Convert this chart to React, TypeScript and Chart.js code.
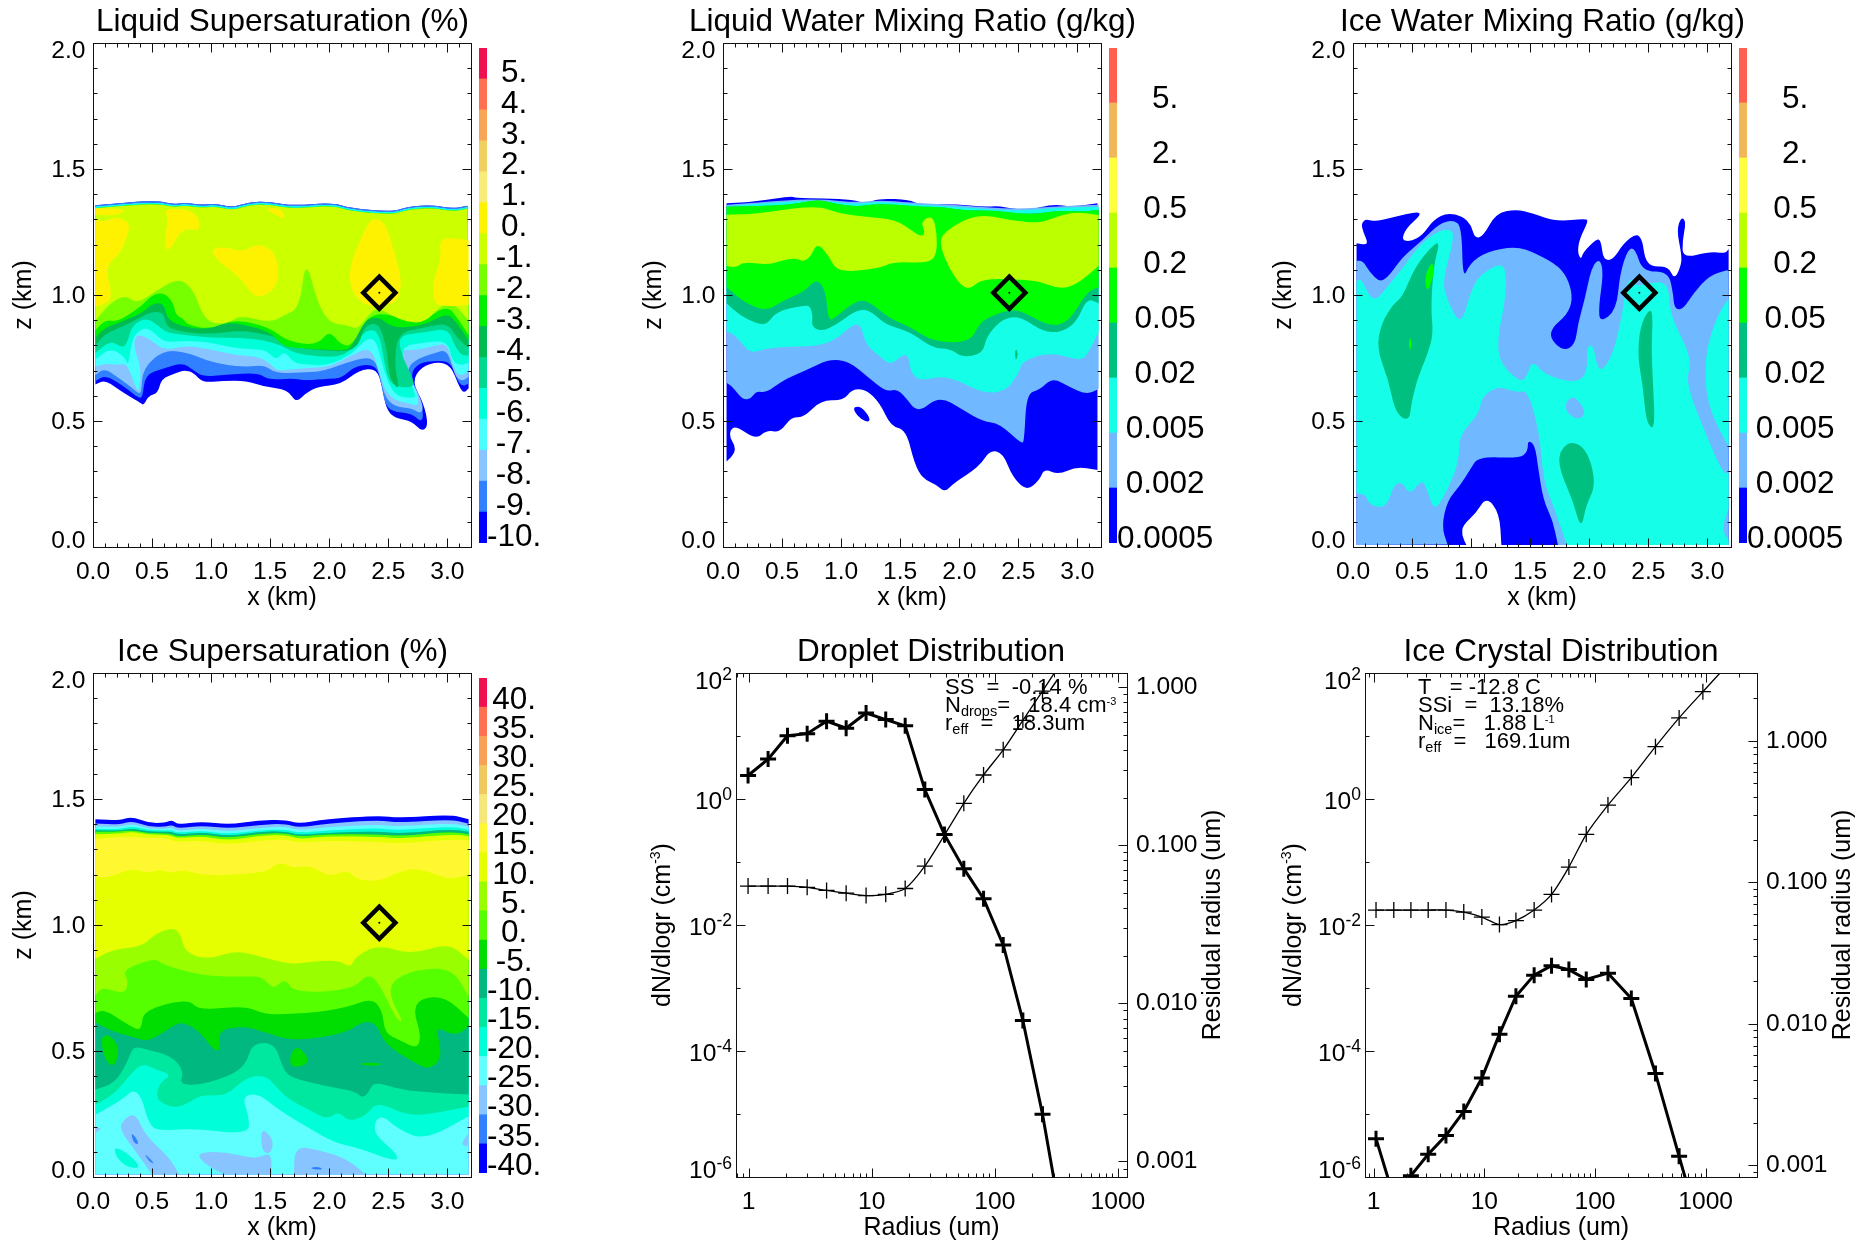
import { useEffect, useRef } from "react";
import { Chart, registerables } from "chart.js";
Chart.register(...registerables);
Chart.defaults.font.family = '"Liberation Sans"';
Chart.defaults.color = "#000";

// ---------- colour bars ----------
const liqLabels = ["5.", "4.", "3.", "2.", "1.", "0.", "-1.", "-2.", "-3.", "-4.", "-5.", "-6.", "-7.", "-8.", "-9.", "-10."];
const liqColors = ["#EE1050", "#FF7050", "#F8A558", "#F0D060", "#F8EC78", "#FFF200", "#CCFF00", "#77FF00", "#00F000", "#00BB50", "#00D890", "#00FFD8", "#48FFFF", "#88C4FF", "#3080FF", "#0000FF"];
const mixLabels = ["5.", "2.", "0.5", "0.2", "0.05", "0.02", "0.005", "0.002", "0.0005"];
const mixColors = ["#FF6050", "#F0B858", "#FFFF40", "#BBFF00", "#00FF00", "#00C080", "#15FFE8", "#70B8FF", "#0000FF"];
const iceLabels = ["40.", "35.", "30.", "25.", "20.", "15.", "10.", "5.", "0.", "-5.", "-10.", "-15.", "-20.", "-25.", "-30.", "-35.", "-40."];
const iceColors = ["#EE1050", "#FF7050", "#F8A058", "#F0C860", "#F5E878", "#FFF830", "#E6FF00", "#99FF00", "#55FF00", "#00DD00", "#00B880", "#00E8A0", "#00FFD8", "#60FFFF", "#88C4FF", "#3080FF", "#0000FF"];

// ---------- Liquid supersaturation contours (x km, z km pairs) ----------
const liqTopX = [0.02, 0.53, 0.67, 0.78, 0.91, 1.04, 1.18, 1.32, 1.49, 1.69, 2.02, 2.19, 2.53, 2.67, 2.87, 3.04, 3.17];
const liqTopA = [1.356, 1.376, 1.36, 1.367, 1.357, 1.364, 1.347, 1.369, 1.371, 1.354, 1.367, 1.344, 1.33, 1.351, 1.357, 1.343, 1.354];
const liqTopB = [1.35, 1.37, 1.354, 1.361, 1.351, 1.358, 1.341, 1.363, 1.365, 1.348, 1.361, 1.338, 1.324, 1.345, 1.351, 1.337, 1.348];
const liqTopC = [1.344, 1.364, 1.348, 1.355, 1.345, 1.352, 1.335, 1.357, 1.359, 1.342, 1.355, 1.332, 1.318, 1.339, 1.345, 1.331, 1.342];
const liqM10 = [.02,.645,.1,.663,.2,.63,.3,.6,.4,.572,.43,.562,.47,.6,.55,.61,.58,.669,.7,.689,.77,.702,.85,.692,.93,.652,1.1,.66,1.3,.66,1.45,.636,1.65,.623,1.72,.572,1.8,.61,1.9,.636,2.1,.645,2.25,.702,2.4,.709,2.45,.636,2.48,.55,2.55,.512,2.7,.5,2.78,.458,2.84,.48,2.8,.57,2.7,.656,2.78,.715,2.92,.735,3.03,.72,3.1,.636,3.14,.61,3.18,.63];
const liqM9 = [.02,.658,.1,.681,.2,.656,.3,.623,.38,.594,.42,.59,.44,.683,.6,.709,.76,.731,.85,.702,.93,.676,1.12,.683,1.4,.692,1.48,.663,1.7,.669,1.8,.66,2,.669,2.1,.669,2.23,.722,2.4,.722,2.44,.649,2.47,.57,2.53,.537,2.7,.53,2.77,.497,2.8,.517,2.77,.59,2.68,.683,2.76,.731,2.9,.739,3.03,.735,3.08,.663,3.13,.636,3.18,.649];
const liqM8 = [.02,.683,.1,.709,.2,.676,.3,.643,.38,.61,.41,.61,.42,.709,.6,.782,.8,.772,.95,.742,1.12,.722,1.3,.715,1.45,.722,1.55,.689,1.75,.692,1.95,.696,2.2,.742,2.38,.755,2.43,.676,2.47,.597,2.55,.557,2.7,.55,2.77,.53,2.8,.55,2.75,.616,2.65,.696,2.72,.742,2.9,.771,3,.784,3.06,.683,3.12,.656,3.18,.676];
const liqM7 = [.02,.715,.1,.729,.2,.722,.28,.729,.33,.676,.37,.623,.39,.623,.41,.705,.34,.8,.37,.845,.47,.83,.6,.78,.8,.8,1,.784,1.2,.762,1.4,.755,1.5,.729,1.55,.702,1.6,.702,1.8,.709,2,.715,2.2,.762,2.35,.795,2.42,.702,2.47,.623,2.55,.583,2.68,.57,2.76,.557,2.74,.623,2.62,.709,2.57,.782,2.75,.782,2.9,.8,3,.808,3.05,.715,3.1,.676,3.18,.696];
const liqM6 = [.02,.745,.15,.79,.25,.76,.28,.74,.3,.72,.33,.83,.42,.87,.5,.86,.6,.81,.8,.82,1,.81,1.2,.79,1.35,.785,1.47,.78,1.55,.74,1.62,.78,1.7,.73,1.8,.725,2,.72,2.2,.77,2.32,.83,2.4,.82,2.46,.7,2.55,.6,2.7,.59,2.74,.6,2.62,.72,2.62,.8,2.8,.81,3,.82,3.04,.74,3.1,.72,3.18,.73];
const liqM5 = [.02,.77,.15,.82,.25,.79,.29,.81,.33,.88,.45,.91,.55,.88,.62,.85,.8,.84,1,.83,1.25,.83,1.45,.82,1.6,.8,1.7,.77,1.9,.755,2.1,.755,2.2,.79,2.3,.86,2.42,.86,2.47,.72,2.52,.64,2.7,.63,2.72,.66,2.62,.75,2.58,.84,2.8,.85,3,.87,3.06,.8,3.12,.76,3.18,.76];
const liqM4 = [.02,.8,.1,.845,.25,.875,.4,.91,.5,.935,.6,.93,.62,.87,.8,.85,1,.845,1.25,.86,1.5,.84,1.6,.82,1.75,.79,1.95,.78,2.15,.775,2.25,.8,2.3,.88,2.42,.89,2.48,.8,2.5,.72,2.52,.66,2.6,.62,2.55,.72,2.58,.85,2.8,.87,3,.89,3.08,.83,3.18,.79];
const liqM3 = [.02,.83,.1,.87,.25,.895,.42,.93,.5,.965,.6,.97,.63,.9,.8,.87,1,.865,1.1,.89,1.25,.885,1.5,.855,1.6,.8,1.7,.79,1.9,.785,2.1,.78,2.18,.785,2.25,.86,2.3,.9,2.42,.915,2.5,.88,2.6,.87,2.8,.88,3,.93,3.08,.89,3.18,.82];
const liqM2 = [.02,.86,.1,.9,.2,.895,.3,.92,.42,.96,.5,1,.6,1.01,.68,.97,.7,.92,.77,.905,.8,.88,1,.865,1.2,.905,1.5,.87,1.65,.815,1.9,.8,2,.86,2.1,.8,2.2,.8,2.3,.9,2.42,.93,2.6,.91,2.8,.9,3,.96,3.1,.9,3.18,.84];
const liqM1 = [.02,.9,.15,.97,.28,1,.37,.965,.53,1.015,.73,1.07,.85,1.02,.92,.93,1,.885,1.15,.89,1.25,.92,1.5,.89,1.62,.92,1.75,.95,1.8,1.15,1.9,.97,2,.89,2.15,.88,2.2,.87,2.25,.87,2.35,.93,2.42,.95,2.6,.9,2.8,.885,2.95,.96,3.05,.97,3.18,.9];
const liqY1 = [.02,1.3,.1,1.29,.2,1.313,.32,1.285,.28,1.22,.23,1.165,.1,1.11,.17,.99,.08,.96,.02,.955];
const liqY2 = [.6,1.344,.87,1.337,.92,1.25,.76,1.27,.63,1.16,.6,1.22,.64,1.3];
const liqY3 = [1.45,1.344,1.6,1.344,1.63,1.298,1.52,1.324];
const liqY4 = [1,1.185,1.13,1.19,1.27,1.17,1.38,1.205,1.52,1.18,1.57,1.12,1.56,1.033,1.43,.99,1.35,1,1.24,1.073,1.04,1.14];
const liqY5 = [2.38,1.304,2.47,1.29,2.54,1.19,2.6,1.086,2.61,1.033,2.58,.98,2.5,.96,2.3,.954,2.18,1.02,2.17,1.11,2.26,1.218,2.33,1.284];
const liqY6 = [2.93,1.23,3.18,1.218,3.18,.96,2.99,.954,2.88,.967,2.88,1.06,2.95,1.15];
const liqY7 = [.02,1.344,.3,1.34,.2,1.315,.02,1.318];

// ---------- Liquid water mixing ratio contours ----------
const lwcTop0 = [.03,1.364,.28,1.37,.58,1.393,.61,1.384,.85,1.384,1.1,1.377,1.21,1.364,1.33,1.384,1.58,1.377,1.66,1.36,1.98,1.361,2.2,1.35,2.34,1.353,2.43,1.344,2.6,1.337,2.79,1.361,2.96,1.35,3.17,1.364];
const lwcTop1 = [.03,1.358,.56,1.377,.85,1.38,1.13,1.367,1.33,1.377,1.58,1.367,1.98,1.357,2.48,1.34,2.82,1.353,3.18,1.358];
const lwcTop2 = [.03,1.352,.56,1.372,.85,1.375,1.13,1.36,1.33,1.372,1.58,1.36,1.98,1.35,2.48,1.332,2.82,1.346,3.18,1.35];
const lwcTop3 = [.03,1.35,.56,1.357,.8,1.38,.93,1.364,1.13,1.35,1.33,1.364,1.66,1.35,1.83,1.35,2.06,1.335,2.31,1.335,2.6,1.318,2.82,1.335,3.05,1.331,3.18,1.338];
const lwcB0 = [.03,.339,.1,.372,.1,.405,.06,.431,.06,.464,.11,.48,.28,.427,.37,.464,.48,.454,.58,.517,.68,.513,.83,.583,1.02,.581,1.09,.626,1.21,.626,1.33,.57,1.42,.48,1.55,.464,1.62,.332,1.69,.272,1.81,.246,1.88,.217,1.95,.253,2.17,.319,2.26,.385,2.37,.372,2.45,.279,2.57,.222,2.68,.266,2.72,.312,2.84,.286,2.99,.319,3.17,.306];
const lwcB1 = [.03,.652,.08,.636,.17,.583,.24,.59,.28,.619,.37,.612,.51,.663,.71,.703,.9,.746,1.07,.736,1.24,.669,1.38,.616,1.47,.627,1.54,.597,1.65,.53,1.83,.6,2.03,.544,2.2,.498,2.34,.491,2.53,.408,2.55,.424,2.57,.61,2.68,.623,2.79,.672,2.93,.636,3.08,.605,3.18,.627];
const lwcB2 = [.03,.855,.08,.848,.14,.821,.23,.768,.37,.788,.56,.795,.83,.798,.99,.835,1.04,.861,1.13,.888,1.17,.874,1.21,.802,1.33,.755,1.42,.722,1.52,.762,1.57,.762,1.59,.689,1.68,.659,1.83,.678,1.98,.663,2.2,.61,2.4,.617,2.51,.696,2.53,.736,2.77,.775,3.03,.736,3.1,.775,3.18,.855];
const lwcB3 = [.03,.967,.14,.92,.28,.888,.37,.881,.45,.934,.69,.96,.74,.954,.76,.914,.75,.875,.83,.855,.96,.882,1.09,.928,1.19,.945,1.27,.928,1.38,.881,1.58,.855,1.78,.788,1.92,.788,2.03,.751,2.2,.768,2.23,.835,2.34,.894,2.44,.914,2.54,.907,2.71,.855,2.85,.851,2.99,.888,3.08,.987,3.18,.967];
const lwcB4 = [.03,1.033,.17,.973,.37,.934,.51,.98,.69,1.013,.79,1.066,.87,1.02,.89,.894,.96,.914,1.13,.98,1.24,.974,1.41,.907,1.58,.874,1.78,.815,2.09,.811,2.17,.887,2.26,.914,2.43,.943,2.54,.934,2.77,.874,2.93,.894,3.08,1.013,3.18,1.03];
const lwcIslandBlue = [1.11,.557,1.17,.557,1.24,.517,1.24,.495,1.17,.505,1.11,.538];
const lwcIslandTeal = [2.48,.788,2.47,.768,2.48,.735,2.5,.768];
const lwcLimeA = [.03,1.318,.28,1.322,.79,1.357,.99,1.322,1.21,1.311,1.47,1.298,1.61,1.251,1.68,1.232,1.71,1.245,1.68,1.284,1.71,1.304,1.78,1.311,1.81,1.245,1.81,1.165,1.75,1.126,1.44,1.132,1.33,1.106,.97,1.089,.9,1.152,.8,1.208,.74,1.152,.68,1.132,.62,1.146,.52,1.139,.37,1.119,.18,1.132,.11,1.109,.03,1.115];
const lwcLimeB = [1.85,1.245,2.14,1.324,2.43,1.297,2.68,1.284,2.82,1.311,2.99,1.33,3.18,1.317,3.18,1.115,2.99,1.04,2.85,1.024,2.68,1.053,2.55,1.06,2.2,1.066,2.09,1.024,2.02,1.035,1.92,1.1,1.84,1.19];

// ---------- Ice water mixing ratio contours ----------
const iwcBlue = [.03,1.205,.135,1.198,.085,1.251,.07,1.284,.11,1.302,.17,1.291,.37,1.311,.54,1.331,.58,1.32,.45,1.265,.41,1.218,.49,1.212,.59,1.238,.68,1.298,.8,1.327,.93,1.311,1,1.278,1.03,1.225,1.1,1.231,1.21,1.324,1.38,1.34,1.52,1.324,1.72,1.291,1.975,1.304,1.99,1.291,1.92,1.225,1.9,1.172,1.93,1.139,1.95,1.172,2.07,1.225,2.1,1.212,2.12,1.139,2.2,1.139,2.29,1.205,2.4,1.245,2.45,1.218,2.47,1.146,2.525,1.112,2.67,1.115,2.72,1.06,2.78,1.119,2.78,1.165,2.74,1.258,2.78,1.311,2.82,1.291,2.79,1.218,2.79,1.146,3.02,1.172,3.15,1.165,3.18,1.183,3.18,.008,1.256,.008,1.24,.134,1.13,.2,1.04,.134,.93,.087,.92,.048,.96,.008,.03,.008];
const iwcLight = [.03,1.136,.085,1.135,.14,1.092,.23,1.049,.31,1.079,.42,1.152,.59,1.218,.73,1.284,.85,1.298,.92,1.271,.93,1.06,.99,1.126,1.13,1.172,1.38,1.194,1.55,1.165,1.75,1.112,1.83,1.053,1.86,.98,1.81,.92,1.69,.874,1.665,.828,1.78,.778,1.88,.802,1.905,.888,1.96,.98,2.02,1.112,2.09,1.146,2.12,1.086,2.08,.954,2.09,.89,2.23,.94,2.26,1.086,2.33,1.185,2.39,1.185,2.45,1.093,2.67,1.093,2.71,1.006,2.72,.947,2.79,.94,2.88,1.006,3.02,1.079,3.18,1.1,3.18,.008,1.735,.008,1.69,.107,1.61,.186,1.566,.319,1.54,.405,1.48,.425,1.48,.379,1.41,.352,1.06,.359,.99,.306,.9,.239,.8,.186,.75,.081,.8,.01,.03,.008];
const iwcCyan = [.03,1.056,.07,1.066,.14,.993,.2,.982,.28,1.026,.42,1.106,.56,1.198,.71,1.251,.82,1.264,.86,1.231,.76,1.06,.79,.987,.89,.894,.945,.92,.99,1.006,1.07,1.08,1.27,1.132,1.3,1.06,1.28,.954,1.23,.848,1.23,.755,1.31,.696,1.425,.656,1.47,.676,1.52,.742,1.61,.689,1.81,.656,1.95,.663,1.99,.729,1.975,.788,2.03,.808,2.06,.729,2.1,.696,2.19,.755,2.26,.874,2.33,1.079,2.4,1.033,2.48,1.047,2.67,1.053,2.68,.927,2.82,.795,2.86,.729,2.82,.649,2.96,.478,3.13,.292,3.18,.295,3.18,.153,3.12,.067,3.18,.028,3.18,.008,1.81,.008,1.71,.147,1.61,.266,1.58,.451,1.48,.623,1.38,.612,1.23,.639,1.09,.597,1.07,.53,.9,.444,.9,.358,.85,.279,.75,.181,.68,.147,.62,.239,.58,.265,.48,.207,.42,.255,.35,.252,.28,.153,.14,.167,.11,.207,.03,.213];
const iwcCyanRight = [3.18,.987,3.08,.914,2.99,.782,2.98,.649,3.03,.53,3.18,.398];
const iwcLightIsland = [1.78,.557,1.86,.607,1.96,.55,1.95,.511,1.86,.51];
const iwcTealA = [.74,1.218,.68,1.112,.66,.94,.68,.848,.635,.769,.54,.663,.49,.557,.48,.511,.42,.507,.35,.55,.3,.663,.2,.788,.24,.888,.34,.964,.42,.993,.52,1.106,.65,1.185];
const iwcTealB = [2.5,.94,2.54,.934,2.525,.781,2.55,.557,2.55,.49,2.53,.468,2.48,.504,2.455,.636,2.41,.755,2.43,.874];
const iwcTealC = [1.85,.418,1.95,.398,2.02,.332,2.05,.239,1.975,.167,1.93,.067,1.86,.186,1.76,.292,1.74,.358,1.78,.398];
const iwcGreenA = [.67,1.132,.69,1.099,.66,1.046,.63,1.013,.61,1.046,.62,1.093];
const iwcGreenB = [.485,.835,.5,.808,.485,.775,.47,.808];

// ---------- Ice supersaturation contours ----------
const issTopX = [.02,.22,.33,.47,.61,.67,.72,.92,1.15,1.4,1.63,1.74,1.97,2.42,2.59,3.03,3.18];
const issT0 = [1.42,1.415,1.431,1.405,1.405,1.418,1.398,1.411,1.398,1.415,1.418,1.402,1.42,1.435,1.425,1.438,1.42];
const issT1 = [1.403,1.398,1.414,1.39,1.39,1.398,1.382,1.395,1.382,1.398,1.402,1.386,1.402,1.417,1.405,1.42,1.402];
const issT2 = [1.392,1.388,1.402,1.382,1.382,1.386,1.372,1.384,1.37,1.386,1.39,1.375,1.388,1.4,1.39,1.405,1.39];
const issT3 = [1.382,1.38,1.392,1.376,1.376,1.376,1.365,1.375,1.36,1.376,1.38,1.365,1.375,1.385,1.375,1.392,1.378];
const issT4 = [1.376,1.374,1.384,1.37,1.37,1.37,1.358,1.368,1.352,1.37,1.372,1.356,1.366,1.372,1.362,1.38,1.37];
const issT5 = [1.37,1.37,1.376,1.364,1.364,1.36,1.35,1.36,1.345,1.362,1.365,1.35,1.36,1.36,1.352,1.37,1.36];
const issT6 = [1.36,1.362,1.37,1.358,1.358,1.352,1.344,1.352,1.335,1.354,1.358,1.34,1.352,1.35,1.342,1.36,1.352];
const issT7 = [1.34,1.35,1.35,1.345,1.345,1.335,1.33,1.335,1.318,1.335,1.34,1.325,1.335,1.33,1.322,1.34,1.335];
const issFloor = [.02,.01,3.18,.01];
const issB15 = [.02,1.193,.13,1.186,.33,1.226,.47,1.204,.56,1.222,.67,1.204,.75,1.22,.95,1.196,1.23,1.2,1.49,1.213,1.53,1.239,1.63,1.246,1.68,1.226,1.85,1.237,2,1.19,2.16,1.22,2.23,1.18,2.42,1.173,2.56,1.206,2.73,1.226,2.87,1.206,3.03,1.18,3.18,1.2];
const issB10 = [.02,.865,.16,.902,.42,.915,.515,.962,.67,.991,.74,.968,.78,.889,.98,.862,1.2,.899,1.4,.876,1.69,.843,1.8,.853,2.08,.862,2.18,.829,2.22,.876,2.42,.922,2.7,.882,3.01,.929,3.18,.862];
const issB5 = [.02,.72,.08,.755,.27,.724,.3,.776,.25,.823,.53,.869,.58,.843,.95,.796,1.32,.796,1.43,.796,1.53,.743,1.62,.79,1.71,.73,2.19,.743,2.33,.807,2.42,.77,2.57,.624,2.63,.614,2.52,.704,2.52,.776,2.73,.823,3.04,.829,3.18,.717];
const issB0 = [.02,.651,.1,.664,.25,.618,.37,.585,.41,.591,.43,.664,.81,.708,.89,.661,1.29,.68,1.46,.644,1.68,.648,1.83,.651,2.14,.671,2.36,.71,2.45,.661,2.47,.571,2.59,.545,2.74,.508,2.78,.558,2.71,.664,2.78,.71,2.98,.717,3.18,.631];
const issBm5 = [.02,.614,.16,.578,.36,.552,.47,.538,.65,.591,.74,.618,.89,.585,1.03,.499,1.08,.505,1.06,.585,1.29,.598,1.43,.578,1.7,.538,2.14,.571,2.28,.618,2.4,.611,2.47,.525,2.73,.452,2.84,.426,2.95,.466,2.93,.545,2.9,.598,3.07,.558,3.18,.598];
const issBm10 = [.02,.347,.19,.373,.3,.466,.34,.519,.47,.505,.67,.479,.77,.419,.73,.366,.92,.366,1.18,.406,1.3,.452,1.35,.532,1.54,.532,1.61,.426,1.68,.393,1.97,.36,2.22,.34,2.28,.313,2.33,.333,2.38,.38,2.6,.347,2.9,.333,3.18,.327];
const issBm15 = [.02,.287,.19,.333,.3,.399,.415,.452,.53,.426,.67,.406,.56,.373,.53,.307,.67,.274,.78,.287,.92,.327,1.12,.32,1.29,.393,1.46,.406,1.57,.347,1.66,.307,1.83,.267,1.98,.228,2.08,.261,2.16,.221,2.31,.241,2.4,.3,2.64,.247,2.84,.247,3.18,.28];
const issBm20 = [.02,.247,.25,.307,.34,.349,.415,.313,.46,.228,.53,.181,.84,.194,1.32,.168,1.32,.241,1.26,.32,1.4,.333,1.57,.267,1.85,.188,2.05,.135,2.25,.115,2.58,.058,2.57,.095,2.38,.168,2.39,.228,2.46,.241,2.59,.188,2.81,.146,3.18,.241];
const issSpot5A = [.06,.558,.15,.565,.23,.505,.175,.433,.1,.465];
const issSpot5B = [1.67,.492,1.74,.522,1.85,.452,1.67,.429];
const issSpot5C = [2.23,.448,2.36,.456,2.47,.446,2.35,.44];
const issPatchA = [.32,.247,.37,.241,.45,.161,.64,.082,.73,.01,.5,.01,.38,.09,.22,.19,.26,.228];
const issPatchB = [.87,.095,1.09,.102,1.35,.075,1.42,.082,1.51,.095,1.51,.01,1.11,.01,.95,.049];
const issPatchC = [1.42,.2,1.53,.148,1.51,.095,1.43,.095];
const issPatchD = [1.71,.122,1.91,.108,2.14,.075,2.31,.01,1.7,.01];
const issPatchE = [3.18,.175,3.17,.122,3.11,.128];
const issPatchF = [.02,.194,.08,.194,.02,.175];
const issDeepA = [.32,.175,.36,.161,.39,.128,.345,.135];
const issDeepB = [.43,.098,.53,.049,.47,.062];
const issDeepC = [1.83,.036,1.9,.042,1.95,.032,1.9,.028];
const issOval = [.175,.119,.275,.102,.415,.036,.3,.036,.2,.075];

const markerX = [2.424];
const markerZ = [1.009];

// ---------- Distributions ----------
const dropRadius = [.99,1.44,2.07,2.99,4.3,6.2,9,13,18.7,27,39,56,81,117,169,244,352];
const dropDensity = [2.36,4.3,10.1,10.9,17.2,13.3,23.2,18.2,14.5,1.41,.272,.0783,.0261,.00482,3.05e-4,9.9e-6,1.7e-7];
const dropResidual = [.0551,.0551,.0551,.0541,.0517,.0497,.048,.0489,.0532,.0737,.116,.184,.278,.401,.616,.944,1.46];
const iceRadius = [1.05,1.52,2.17,3.11,4.5,6.52,9.5,13.7,19.3,28.2,40.5,58.1,83.4,131,213,352,576,944,1548];
const iceDensity = [4.06e-6,4.8e-7,1.05e-6,2.29e-6,4.55e-6,1.1e-5,3.72e-5,1.85e-4,7.4e-4,1.6e-3,2.26e-3,1.96e-3,1.37e-3,1.72e-3,6.8e-4,4.4e-5,2.13e-6,1e-7,1e-8];
const iceResidual = [.0636,.0636,.0636,.0636,.0636,.0615,.0567,.0502,.0536,.0636,.082,.128,.218,.351,.549,.908,1.45,2.22,3.38];

const kmMajorX = [0, .5, 1, 1.5, 2, 2.5, 3];
const kmMinorX = [.1,.2,.3,.4,.6,.7,.8,.9,1.1,1.2,1.3,1.4,1.6,1.7,1.8,1.9,2.1,2.2,2.3,2.4,2.6,2.7,2.8,2.9,3.1];
const kmMajorZ = [0, .5, 1, 1.5, 2];
const kmMinorZ = [.1,.2,.3,.4,.6,.7,.8,.9,1.1,1.2,1.3,1.4,1.6,1.7,1.8,1.9];
const densTicks = [2, 0, -2, -4, -6];
const densMinor = [1e1, 1e-1, 1e-3, 1e-5];
const residTicks = [1, .1, .01, .001];
const radiusTicks = [1, 10, 100, 1000];

// ---------- helpers ----------
const pairs = (f: number[]) => {
  const o: { x: number; y: number }[] = [];
  for (let i = 0; i < f.length; i += 2) o.push({ x: f[i], y: f[i + 1] });
  return o;
};
const zip = (xs: number[], zs: number[]) => xs.flatMap((x, i) => [x, zs[i]]);
const band = (top: number[], bottom: number[]) => [...pairs(top), ...pairs(bottom).reverse()];
const logMinors = (lo: number, hi: number) => {
  const out: number[] = [];
  for (let d = -4; d < 5; d++) for (let m = 2; m < 10; m++) {
    const v = m * 10 ** d;
    if (v > lo && v < hi) out.push(v);
  }
  return out;
};

const polygonFill = {
  id: "polygonFill",
  beforeDatasetDraw(chart: any, args: any) {
    const ds = chart.data.datasets[args.index];
    if (!ds.polygon) return;
    const { ctx, chartArea: a } = chart;
    const pts = args.meta.data;
    const n = pts.length;
    const raw = ds.data;
    const sharp = (i: number) => raw[i].x <= 0.035 || raw[i].x >= 3.165 || raw[i].y <= 0.011;
    ctx.save();
    ctx.beginPath();
    ctx.rect(a.left, a.top, a.right - a.left, a.bottom - a.top);
    ctx.clip();
    ctx.beginPath();
    const mid = (i: number) => {
      const p = pts[i % n], q = pts[(i + 1) % n];
      return [(p.x + q.x) / 2, (p.y + q.y) / 2];
    };
    const s = mid(n - 1);
    ctx.moveTo(s[0], s[1]);
    for (let i = 0; i < n; i++) {
      const m = mid(i);
      if (sharp(i)) {
        ctx.lineTo(pts[i].x, pts[i].y);
        ctx.lineTo(m[0], m[1]);
      } else {
        ctx.quadraticCurveTo(pts[i].x, pts[i].y, m[0], m[1]);
      }
    }
    ctx.closePath();
    ctx.fillStyle = ds.backgroundColor;
    ctx.fill();
    ctx.restore();
  },
};

const frame = (spec: any) => ({
  id: "frame",
  afterDatasetsDraw(chart: any) {
    const { ctx, chartArea: a, scales } = chart;
    const L = Math.round(a.left) + 0.5, R = Math.round(a.right) + 0.5, T = Math.round(a.top) + 0.5, B = Math.round(a.bottom) + 0.5;
    ctx.save();
    ctx.strokeStyle = "#111";
    ctx.lineWidth = 1;
    const seg = (x1: number, y1: number, x2: number, y2: number) => {
      ctx.beginPath(); ctx.moveTo(x1, y1); ctx.lineTo(x2, y2); ctx.stroke();
    };
    ctx.strokeRect(L, T, R - L, B - T);
    const xT = (vals: number[], len: number) => vals.forEach((v) => {
      const p = Math.round(scales.x.getPixelForValue(v)) + 0.5;
      seg(p, B, p, B - len); seg(p, T, p, T + len);
    });
    xT(spec.xMajor, 9); xT(spec.xMinor, 4);
    const yT = (id: string, vals: number[], len: number, left: boolean, right: boolean) => vals.forEach((v) => {
      const p = Math.round(scales[id].getPixelForValue(v)) + 0.5;
      if (left) seg(L, p, L + len, p);
      if (right) seg(R, p, R - len, p);
    });
    (spec.y || []).forEach((y: any) => yT(y.id, y.vals, y.len, y.left, y.right));
    ctx.restore();
  },
});

type Run = [string, number, number];
const runsWidth = (ctx: any, runs: Run[]) => runs.reduce((w, [t, s]) => {
  ctx.font = `${s}px "Liberation Sans"`;
  return w + ctx.measureText(t).width;
}, 0);
const drawRuns = (ctx: any, x: number, y: number, runs: Run[]) => {
  ctx.textBaseline = "alphabetic";
  ctx.textAlign = "left";
  ctx.fillStyle = "#000";
  runs.forEach(([t, s, dy]) => {
    ctx.font = `${s}px "Liberation Sans"`;
    ctx.fillText(t, x, y + dy);
    x += ctx.measureText(t).width;
  });
};

const annotate = (spec: any) => ({
  id: "annotate",
  afterDraw(chart: any) {
    const { ctx, scales } = chart;
    ctx.save();
    densTicks.forEach((e, i) => {
      const p = scales.y.getPixelForValue(10 ** e) + [16, 10, 10, 10, 1][i];
      const runs: Run[] = [["10", 24.6, 0], [String(e), 17.5, -9]];
      drawRuns(ctx, chart.chartArea.left - 4 - runsWidth(ctx, runs), p, runs);
    });
    spec.lines.forEach((l: Run[], i: number) => drawRuns(ctx, spec.textX, spec.textY + i * 18.2, l));
    [[spec.leftX, spec.leftTitle], [spec.rightX, spec.rightTitle]].forEach(([x, runs]: any) => {
      ctx.save();
      ctx.translate(x, 295);
      ctx.rotate(-Math.PI / 2);
      drawRuns(ctx, -runsWidth(ctx, runs) / 2, 8.5, runs);
      ctx.restore();
    });
    ctx.restore();
  },
});

const titleOf = (text: string) => ({
  display: true, text, color: "#000",
  font: { size: 31.5, weight: "normal" as const, lineHeight: 1.2 },
  padding: { top: 3.1, bottom: 1.9 },
});

// ---------- chart configs ----------
const contourConfig = (title: string, layers: [string, { x: number; y: number }[]][]) => {
  const n = layers.length;
  const datasets: any[] = layers.map(([c, pts], i) => ({
    polygon: true, data: pts, backgroundColor: c, showLine: false, pointRadius: 0, order: n - i + 1,
  }));
  const mark = markerX.map((x, i) => ({ x, y: markerZ[i] }));
  datasets.push({ data: mark, pointStyle: "rectRot", pointRadius: 16, pointBorderWidth: 4.5, pointBorderColor: "#000", pointBackgroundColor: "rgba(0,0,0,0)", order: 1, clip: false });
  datasets.push({ data: mark, pointStyle: "circle", pointRadius: 1, pointBorderWidth: 0, pointBackgroundColor: "#000", order: 0 });
  return {
    type: "scatter",
    data: { datasets },
    options: {
      responsive: false, animation: false, devicePixelRatio: 1,
      layout: { autoPadding: false, padding: { left: 0, right: 0, top: 0.2, bottom: 0 } },
      plugins: { legend: { display: false }, tooltip: { enabled: false }, title: titleOf(title) },
      scales: {
        x: {
          type: "linear", min: 0, max: 3.2, border: { display: false }, grid: { display: false, drawTicks: false },
          afterBuildTicks: (s: any) => { s.ticks = kmMajorX.map((value) => ({ value })); },
          afterFit: (s: any) => { s.height = 66; },
          ticks: { color: "#000", font: { size: 24.6 }, padding: 10, autoSkip: false, maxRotation: 0, callback: (v: number) => v.toFixed(1) },
          title: { display: true, text: "x (km)", color: "#000", font: { size: 25 }, padding: 0 },
        },
        y: {
          type: "linear", min: 0, max: 2, border: { display: false }, grid: { display: false, drawTicks: false },
          afterBuildTicks: (s: any) => { s.ticks = kmMajorZ.map((value) => ({ value })); },
          afterFit: (s: any) => { s.width = 93; },
          ticks: {
            color: "#000", font: { size: 24.6, lineHeight: 0.57 }, padding: 7.5, autoSkip: false, labelOffset: 1,
            callback: (v: number) => (v === 2 ? ["", "2.0"] : v === 0 ? ["0.0", ""] : v.toFixed(1)),
          },
          title: { display: true, text: "z (km)", color: "#000", font: { size: 25 }, padding: { top: 9, bottom: 0 } },
        },
        ySpare: {
          type: "linear", position: "right", border: { display: false }, grid: { display: false, drawTicks: false },
          ticks: { display: false },
          afterFit: (s: any) => { s.width = 94; },
        },
      },
    },
    plugins: [polygonFill, frame({
      xMajor: kmMajorX, xMinor: kmMinorX,
      y: [{ id: "y", vals: kmMajorZ, len: 9, left: true, right: true }, { id: "y", vals: kmMinorZ, len: 4, left: true, right: true }],
    })],
  };
};

const distConfig = (title: string, radius: number[], dens: number[], resid: number[], xr: number[], y2r: number[], spec: any) => ({
  type: "scatter",
  data: {
    datasets: [
      { data: radius.map((x, i) => ({ x, y: dens[i] })), yAxisID: "y", showLine: true, borderColor: "#000", borderWidth: 3, pointStyle: "cross", pointRadius: 8, pointBorderWidth: 3, pointBorderColor: "#000" },
      { data: radius.map((x, i) => ({ x, y: resid[i] })), yAxisID: "y2", showLine: true, borderColor: "#000", borderWidth: 1.3, tension: 0.25, pointStyle: "cross", pointRadius: 8, pointBorderWidth: 1.3, pointBorderColor: "#000" },
    ],
  },
  options: {
    responsive: false, animation: false, devicePixelRatio: 1,
    layout: { autoPadding: false, padding: { left: 0, right: 0, top: 0.2, bottom: 0 } },
    plugins: { legend: { display: false }, tooltip: { enabled: false }, title: titleOf(title) },
    scales: {
      x: {
        type: "logarithmic", min: xr[0], max: xr[1], border: { display: false }, grid: { display: false, drawTicks: false },
        afterBuildTicks: (s: any) => { s.ticks = radiusTicks.map((value) => ({ value })); },
        afterFit: (s: any) => { s.height = 66; },
        ticks: { color: "#000", font: { size: 24.6 }, padding: 10, autoSkip: false, maxRotation: 0, callback: (v: number) => String(v) },
        title: { display: true, text: "Radius (um)", color: "#000", font: { size: 25 }, padding: 0 },
      },
      y: {
        type: "logarithmic", min: 1e-6, max: 1e2, position: "left", border: { display: false }, grid: { display: false, drawTicks: false },
        afterFit: (s: any) => { s.width = spec.leftW; },
        ticks: { display: false },
      },
      y2: {
        type: "logarithmic", min: y2r[0], max: y2r[1], position: "right", border: { display: false }, grid: { display: false, drawTicks: false },
        afterBuildTicks: (s: any) => { s.ticks = residTicks.map((value) => ({ value })); },
        afterFit: (s: any) => { s.width = spec.rightW; },
        ticks: { color: "#000", font: { size: 24.6 }, padding: 9, autoSkip: false, callback: (v: number) => v.toFixed(3) },
      },
    },
  },
  plugins: [frame({
    xMajor: radiusTicks, xMinor: logMinors(xr[0], xr[1]),
    y: [
      { id: "y", vals: densTicks.map((e) => 10 ** e), len: 9, left: true, right: false },
      { id: "y", vals: densMinor, len: 4, left: true, right: false },
      { id: "y2", vals: residTicks, len: 9, left: false, right: true },
      { id: "y2", vals: logMinors(y2r[0], y2r[1]), len: 4, left: false, right: true },
    ],
  }), annotate(spec)],
});

const barConfig = (labels: string[], colors: string[], offset: number) => {
  const n = labels.length;
  return {
    type: "bar",
    data: {
      labels: [""],
      datasets: colors.slice().reverse().map((c) => ({ data: [1], backgroundColor: c, stack: "s", barPercentage: 1, categoryPercentage: 1, borderWidth: 0 })),
    },
    options: {
      responsive: false, animation: false, devicePixelRatio: 1,
      layout: { autoPadding: false, padding: { top: 20, bottom: 20, left: 0, right: 0 } },
      plugins: { legend: { display: false }, tooltip: { enabled: false } },
      scales: {
        x: { display: false, stacked: true },
        y: {
          stacked: true, min: 0, max: n, position: "right", border: { display: false }, grid: { display: false, drawTicks: false },
          afterBuildTicks: (s: any) => { s.ticks = labels.map((_, i) => ({ value: n - 1 - i })); },
          afterFit: (s: any) => { s.width = 112; },
          ticks: {
            color: "#000", font: { size: 31.5 }, padding: 0, crossAlign: "center", autoSkip: false, labelOffset: offset,
            callback: (v: number) => labels[n - 1 - v],
          },
        },
      },
    },
  };
};

function Plot({ left, top, width, height, make }: any) {
  const ref = useRef<HTMLCanvasElement>(null);
  useEffect(() => {
    const c = new Chart(ref.current as any, make());
    return () => c.destroy();
  }, []);
  return <canvas ref={ref} width={width} height={height} style={{ position: "absolute", left, top, width, height, display: "block" }} />;
}

const liqLayers = (): [string, any[]][] => {
  const [, , , , , c0, m1, m2, m3, m4, m5, m6, m7, m8, m9, m10] = liqColors;
  const A = zip(liqTopX, liqTopA), B = zip(liqTopX, liqTopB), C = zip(liqTopX, liqTopC);
  return [
    [m10, band(A, liqM10)], [m9, band(A, liqM9)], [m8, band(B, liqM8)], [m7, band(B, liqM7)], [m6, band(B, liqM6)],
    [m5, band(C, liqM5)], [m4, band(C, liqM4)], [m3, band(C, liqM3)], [m2, band(C, liqM2)], [m1, band(C, liqM1)],
    [c0, pairs(liqY1)], [c0, pairs(liqY2)], [c0, pairs(liqY3)], [c0, pairs(liqY4)], [c0, pairs(liqY5)], [c0, pairs(liqY6)], [c0, pairs(liqY7)],
  ];
};
const lwcLayers = (): [string, any[]][] => {
  const c = mixColors;
  return [
    [c[8], band(lwcTop0, lwcB0)], [c[8], pairs(lwcIslandBlue)], [c[7], band(lwcTop1, lwcB1)], [c[6], band(lwcTop2, lwcB2)], [c[5], pairs(lwcIslandTeal)],
    [c[5], band(lwcTop3, lwcB3)], [c[4], band(lwcTop3, lwcB4)], [c[3], pairs(lwcLimeA)], [c[3], pairs(lwcLimeB)],
  ];
};
const iwcLayers = (): [string, any[]][] => {
  const c = mixColors;
  return [
    [c[8], pairs(iwcBlue)], [c[7], pairs(iwcLight)], [c[6], pairs(iwcCyan)], [c[6], pairs(iwcCyanRight)], [c[7], pairs(iwcLightIsland)],
    [c[5], pairs(iwcTealA)], [c[5], pairs(iwcTealB)], [c[5], pairs(iwcTealC)], [c[4], pairs(iwcGreenA)], [c[4], pairs(iwcGreenB)],
  ];
};
const issLayers = (): [string, any[]][] => {
  const c = iceColors;
  const T = (z: number[]) => zip(issTopX, z);
  return [
    [c[16], band(T(issT0), issFloor)], [c[14], band(T(issT1), issFloor)], [c[13], band(T(issT2), issFloor)],
    [c[14], pairs(issPatchA)], [c[14], pairs(issPatchB)], [c[14], pairs(issPatchC)], [c[14], pairs(issPatchD)], [c[14], pairs(issPatchE)], [c[14], pairs(issPatchF)],
    [c[15], pairs(issDeepA)], [c[15], pairs(issDeepB)], [c[15], pairs(issDeepC)], [c[12], pairs(issOval)],
    [c[12], band(T(issT3), issBm20)], [c[11], band(T(issT4), issBm15)], [c[10], band(T(issT4), issBm10)],
    [c[9], pairs(issSpot5A)], [c[9], pairs(issSpot5B)], [c[9], pairs(issSpot5C)],
    [c[9], band(T(issT5), issBm5)], [c[8], band(T(issT5), issB0)], [c[7], band(T(issT6), issB5)], [c[6], band(T(issT6), issB10)], [c[5], band(T(issT7), issB15)],
  ];
};

const dropSpec = {
  leftW: 105, rightW: 104, leftX: 30, rightX: 580, textX: 314, textY: 63.5,
  leftTitle: [["dN/dlogr (cm", 25, 0], ["-3", 14, -10], [")", 25, 0]],
  rightTitle: [["Residual radius (um)", 25, 0]],
  lines: [
    [["SS  =  -0.14 %", 22, 0]],
    [["N", 22, 0], ["drops", 14.5, 4], ["=   18.4 cm", 22, 0], ["-3", 11, -7]],
    [["r", 22, 0], ["eff", 14.5, 4], ["  =   18.3um", 22, 0]],
  ],
};
const iceSpec = {
  leftW: 104, rightW: 104, leftX: 31, rightX: 580, textX: 157, textY: 63.5,
  leftTitle: [["dN/dlogr (cm", 25, 0], ["-3", 14, -10], [")", 25, 0]],
  rightTitle: [["Residual radius (um)", 25, 0]],
  lines: [
    [["T   = -12.8 C", 22, 0]],
    [["SSi  =  13.18%", 22, 0]],
    [["N", 22, 0], ["ice", 14.5, 4], ["=   1.88 L", 22, 0], ["-1", 11, -7]],
    [["r", 22, 0], ["eff", 14.5, 4], ["  =   169.1um", 22, 0]],
  ],
};

export default function App() {
  return (
    <div style={{ position: "absolute", left: 0, top: 0, width: 1865, height: 1244, background: "#fff", overflow: "hidden" }}>
      <Plot left={0} top={0} width={565} height={613} make={() => contourConfig("Liquid Supersaturation (%)", liqLayers())} />
      <Plot left={630} top={0} width={565} height={613} make={() => contourConfig("Liquid Water Mixing Ratio (g/kg)", lwcLayers())} />
      <Plot left={1260} top={0} width={565} height={613} make={() => contourConfig("Ice Water Mixing Ratio (g/kg)", iwcLayers())} />
      <Plot left={0} top={630} width={565} height={613} make={() => contourConfig("Ice Supersaturation (%)", issLayers())} />
      <Plot left={631} top={630} width={600} height={613} make={() => distConfig("Droplet Distribution", dropRadius, dropDensity, dropResidual, [0.79, 1185], [0.000796, 1.228], dropSpec)} />
      <Plot left={1261} top={630} width={600} height={613} make={() => distConfig("Ice Crystal Distribution", iceRadius, iceDensity, iceResidual, [0.835, 2912], [0.000826, 3.01], iceSpec)} />
      <Plot left={479} top={28} width={120} height={535} make={() => barConfig(liqLabels, liqColors, -6)} />
      <Plot left={1109} top={28} width={120} height={535} make={() => barConfig(mixLabels, mixColors, -4)} />
      <Plot left={1739} top={28} width={120} height={535} make={() => barConfig(mixLabels, mixColors, -4)} />
      <Plot left={479} top={658} width={120} height={535} make={() => barConfig(iceLabels, iceColors, -7)} />
    </div>
  );
}
